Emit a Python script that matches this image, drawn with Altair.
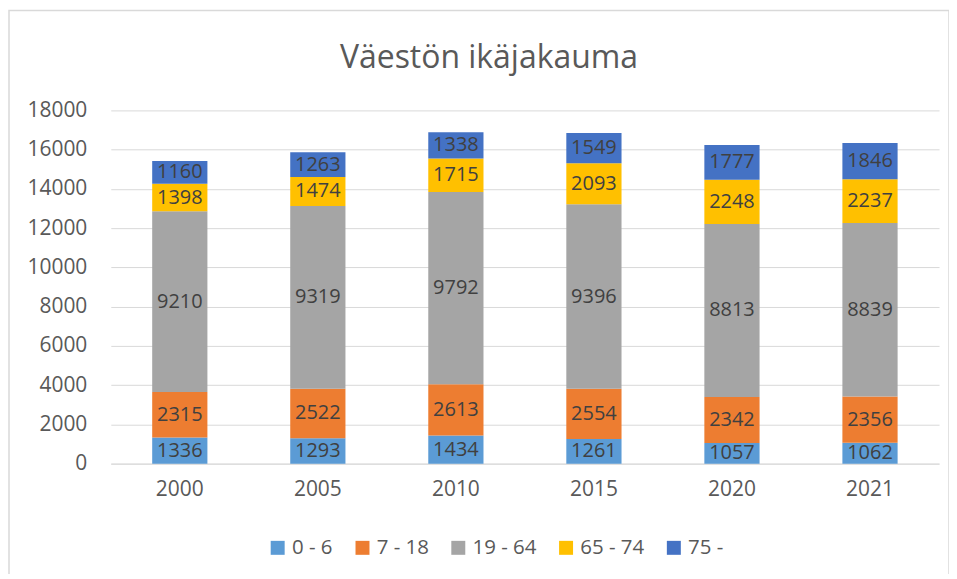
import altair as alt
import pandas as pd

title_text = "Väestön ikäjakauma"
years = ["2000", "2005", "2010", "2015", "2020", "2021"]
groups = ["0 - 6", "7 - 18", "19 - 64", "65 - 74", "75 -"]
colors = ["#5B9BD5", "#ED7D31", "#A5A5A5", "#FFC000", "#4472C4"]
v_0_6 = [1336, 1293, 1434, 1261, 1057, 1062]
v_7_18 = [2315, 2522, 2613, 2554, 2342, 2356]
v_19_64 = [9210, 9319, 9792, 9396, 8813, 8839]
v_65_74 = [1398, 1474, 1715, 2093, 2248, 2237]
v_75 = [1160, 1263, 1338, 1549, 1777, 1846]
y_ticks = list(range(0, 18001, 2000))

series = [v_0_6, v_7_18, v_19_64, v_65_74, v_75]
rows = []
for gi, (g, vals) in enumerate(zip(groups, series)):
    for y, v in zip(years, vals):
        rows.append({"year": y, "group": g, "order": gi, "value": v})
df = pd.DataFrame(rows)

FONT = "Open Sans"
GRAY = "#595959"
FS = 21

y_scale = alt.Scale(domain=[0, 18000], nice=False)
x_scale = alt.Scale(paddingInner=0.6, paddingOuter=0.3)
x_axis = alt.Axis(labelAngle=0, ticks=False, domain=True, domainColor="#D9D9D9",
                  labelFontSize=FS, labelColor=GRAY, labelFont=FONT, labelPadding=15)
y_axis = alt.Axis(values=y_ticks, format="d", labelOverlap=False, ticks=False,
                  domain=False, gridColor="#D9D9D9",
                  labelFontSize=FS, labelColor=GRAY, labelFont=FONT, labelPadding=24)

base = alt.Chart(df)

bars = base.mark_bar().encode(
    x=alt.X("year:N", sort=years, title=None, scale=x_scale, axis=x_axis),
    y=alt.Y("value:Q", stack="zero", title=None, scale=y_scale, axis=y_axis),
    color=alt.Color("group:N", scale=alt.Scale(domain=groups, range=colors),
                    legend=alt.Legend(title=None, orient="none", direction="horizontal",
                                      legendX=157, legendY=428, symbolType="square",
                                      symbolSize=196, symbolStrokeWidth=0, labelFontSize=20.5,
                                      labelColor=GRAY, labelFont=FONT, columnPadding=19,
                                      labelOffset=4)),
    order=alt.Order("order:Q", sort="ascending"),
)

labels = base.transform_stack(
    stack="value", groupby=["year"], as_=["y0", "y1"], sort=[alt.SortField("order", "ascending")]
).transform_calculate(mid="(datum.y0 + datum.y1) / 2").mark_text(
    fontSize=20, color="#404040", font=FONT, baseline="middle"
).encode(
    x=alt.X("year:N", sort=years, title=None, scale=x_scale, axis=x_axis),
    y=alt.Y("mid:Q", title=None, scale=y_scale, axis=y_axis),
    text=alt.Text("value:Q", format="d"),
)

border = alt.Chart(pd.DataFrame({"a": [0]})).mark_rect(
    fill=None, stroke="#D9D9D9", strokeWidth=1.5
).encode(x=alt.value(-102), x2=alt.value(840), y=alt.value(-100), y2=alt.value(475))

title = alt.Chart(pd.DataFrame({"t": [title_text]})).mark_text(
    fontSize=32, font=FONT, color=GRAY, baseline="alphabetic", align="center"
).encode(text="t:N", x=alt.value(379), y=alt.value(-42))

chart = alt.layer(border, bars, labels, title).properties(
    width=830, height=354,
    autosize=alt.AutoSizeParams(type="none"),
    padding={"left": 103, "top": 102, "right": 10, "bottom": 110},
).configure_view(stroke=None)

chart.save("out.html", embed_options={"renderer": "svg", "actions": False})
